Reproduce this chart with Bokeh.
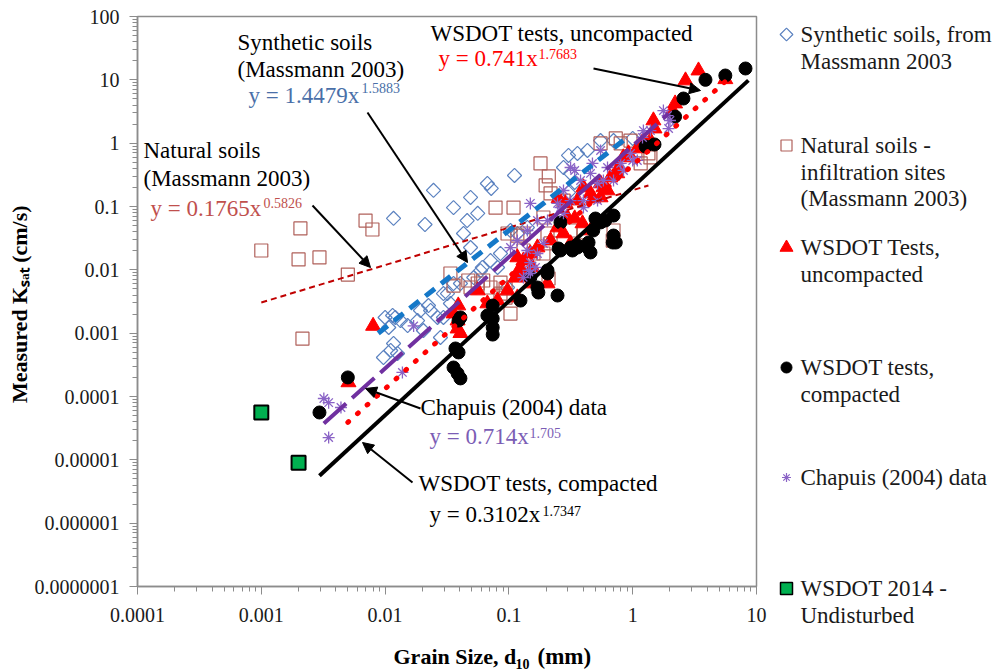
import numpy as np
from bokeh.plotting import figure
from bokeh.layouts import row, column
from bokeh.models import Range1d, FixedTicker, CustomJSTickFormatter, Label, Arrow, NormalHead, Title
from bokeh.core.properties import value
from bokeh.embed import file_html
from bokeh.resources import INLINE

# ---------------- data ----------------
syn_x = [0.0117, 0.021, 0.0246, 0.0357, 0.049, 0.067, 0.072, 0.111, 0.046, 0.056, 0.043, 0.049,
         0.303, 0.358, 0.431, 0.276, 0.315, 0.34, 0.303, 0.141, 0.117, 0.103, 0.0855, 0.071, 0.061,
         0.052, 0.0357, 0.0296, 0.0296, 0.0233, 0.0183, 0.0121, 0.0152, 0.55, 0.70, 1.0, 0.010,
         0.0115, 0.0107, 0.0117, 0.0111, 0.0126, 0.0097, 0.0133, 0.0193, 0.0224, 0.0265, 0.0319,
         0.0337, 0.0406, 0.028, 0.0204, 0.059, 0.081, 0.0975]
syn_y = [0.065, 0.052, 0.18, 0.096, 0.139, 0.231, 0.193, 0.309, 0.060, 0.078, 0.0375, 0.0225,
         0.64, 0.688, 0.767, 0.413, 0.333, 0.24, 0.167, 0.0466, 0.0375, 0.0418, 0.0181, 0.014, 0.0109,
         0.00756, 0.00608, 0.00422, 0.00177, 0.00228, 0.00158, 0.00177, 0.00132, 1.10, 1.10, 1.19, 0.00177,
         0.0019, 0.00123, 0.000687, 0.000533, 0.000478, 0.000413, 0.00158, 0.00228, 0.00273, 0.00177, 0.00422,
         0.00294, 0.00608, 0.000855, 0.0011, 0.0097, 0.0109, 0.00526]

nat_x = [0.001, 0.00207, 0.002, 0.00295, 0.00695, 0.0079, 0.005, 0.00215, 0.078, 0.109, 0.18, 0.198,
         0.217, 0.276, 0.0975, 0.117, 0.131, 0.19, 0.205, 0.217, 0.315, 0.40, 0.55, 0.73, 0.80, 0.96,
         1.34, 1.39, 0.70, 0.69, 0.0337, 0.047, 0.056, 0.071, 0.0855, 0.094, 0.131, 0.158, 0.19, 0.18,
         0.209, 0.103, 0.0855, 0.049, 0.062, 0.094, 0.0357, 1.16, 0.21]
nat_y = [0.0202, 0.045, 0.0146, 0.0157, 0.060, 0.0433, 0.00843, 0.00082, 0.096, 0.096, 0.478, 0.215,
         0.161, 0.124, 0.0375, 0.0348, 0.0375, 0.067, 0.0375, 0.0261, 0.0418, 0.0389, 0.99, 1.19, 0.99, 1.10,
         0.688, 0.595, 0.0418, 0.029, 0.00875, 0.00678, 0.00608, 0.00526, 0.0063, 0.00507, 0.0202, 0.0181, 0.0181, 0.00678,
         0.0073, 0.00204, 0.00422, 0.00526, 0.00678, 0.00365, 0.00565, 0.478, 0.30]

unc_x = [2.67, 3.4, 5.6, 2.2, 2.1, 1.5, 1.39, 0.925, 0.75, 0.58, 0.48, 0.40, 0.358, 0.297, 0.276,
         0.247, 0.217, 0.315, 0.17, 0.149, 0.131, 0.117, 0.117, 0.124, 0.155, 0.149, 0.205, 0.0975,
         0.081, 0.117, 0.067, 0.056, 0.0357, 0.0385, 0.008, 0.039, 0.0385, 0.0406, 0.113, 0.129,
         0.00506, 1.47, 1.22, 1.09, 0.84, 0.77, 0.66, 0.55, 0.55, 0.456, 0.252, 0.286, 0.34, 0.393,
         0.456, 0.626]
unc_y = [9.75, 14.0, 10.2, 4.22, 3.27, 1.70, 1.10, 0.688, 0.333, 0.2, 0.134, 0.2, 0.124, 0.067, 0.0375,
         0.0466, 0.029, 0.0261, 0.0225, 0.0181, 0.014, 0.0157, 0.00756, 0.0109, 0.0109, 0.00608, 0.00608, 0.00471,
         0.00327, 0.00365, 0.00294, 0.00471, 0.00204, 0.00158, 0.0013, 0.00273, 0.00118, 0.001, 0.00756, 0.00875,
         0.000167, 2.28, 1.10, 0.825, 0.595, 0.413, 0.287, 0.231, 0.139, 0.161, 0.134, 0.112, 0.0646, 0.054,
         0.0418, 0.179]

com_x = [8.15, 5.6, 3.87, 2.57, 2.2, 1.5, 1.27, 0.70, 0.60, 0.48, 0.431, 0.358, 0.315, 0.261, 0.70,
         0.69, 0.247, 0.17, 0.205, 0.149, 0.124, 0.074, 0.074, 0.074, 0.074, 0.0392, 0.037, 0.0392,
         0.0357, 0.0385, 0.0406, 0.005, 0.00295, 0.173, 0.067, 0.0406, 0.50, 0.55, 0.73, 0.44, 0.456,
         0.358, 0.326, 0.252, 0.205, 0.261]
com_y = [15.1, 11.7, 10.0, 5.07, 2.63, 0.954, 0.886, 0.072, 0.060, 0.0418, 0.0225, 0.0225, 0.0225, 0.0202, 0.0348,
         0.027, 0.00393, 0.00526, 0.00875, 0.00756, 0.00327, 0.00273, 0.0017, 0.00123, 0.00095, 0.00158, 0.000573, 0.000496,
         0.000287, 0.000231, 0.000193, 0.0002, 0.0000559, 0.00438, 0.0019, 0.00177, 0.0646, 0.056, 0.027, 0.027, 0.0188,
         0.0242, 0.0202, 0.0217, 0.0098, 0.056]

cha_x = [1.77, 1.91, 1.95, 1.39, 1.2, 1.0, 0.843, 0.70, 0.626, 0.55, 0.52, 0.456, 0.40, 0.52, 0.315,
         0.276, 0.276, 0.247, 0.205, 0.17, 0.149, 0.141, 0.117, 0.141, 0.17, 0.19, 0.103, 0.149, 0.017,
         0.0138, 0.164, 0.144, 0.131, 0.149, 0.0032, 0.0035, 0.0044, 0.0035, 2.0, 1.22, 1.09, 0.96, 0.80,
         0.473, 0.379, 0.34, 0.58, 0.315, 0.261, 0.40]
cha_y = [3.27, 2.73, 1.70, 1.58, 1.23, 0.533, 0.371, 0.258, 0.413, 0.767, 0.231, 0.333, 0.124, 0.124, 0.413,
         0.179, 0.078, 0.112, 0.060, 0.060, 0.112, 0.0418, 0.029, 0.0202, 0.0181, 0.0261, 0.0225, 0.00875, 0.0013,
         0.00024, 0.0109, 0.0098, 0.00756, 0.013, 0.000093, 0.00008, 0.000067, 0.0000225, 2.28, 1.58, 0.533, 0.688, 0.478,
         0.478, 0.258, 0.371, 0.258, 0.124, 0.0965, 0.0965]

und_x = [0.001, 0.002]
und_y = [0.000056, 0.000009]

# trend lines (end points)
fit_syn_x, fit_syn_y = [0.0088, 0.84], [0.001, 1.1]
fit_nat_x, fit_nat_y = [0.001, 1.34], [0.00305, 0.215]
fit_unc_x, fit_unc_y = [0.005, 6.2], [0.000039, 11.3]
fit_cha_x, fit_cha_y = [0.0032, 1.95], [0.0000375, 2.94]
fit_com_x, fit_com_y = [0.00295, 8.6], [0.0000056, 9.8]

x_ticks = [1e-4, 1e-3, 1e-2, 1e-1, 1, 10]
y_ticks = [1e-7, 1e-6, 1e-5, 1e-4, 1e-3, 1e-2, 1e-1, 1, 10, 100]

legend_labels = [["Synthetic soils, from", "Massmann 2003"],
                 ["Natural soils -", "infiltration sites", "(Massmann 2003)"],
                 ["WSDOT Tests,", "uncompacted"],
                 ["WSDOT tests,", "compacted"],
                 ["Chapuis (2004) data"],
                 ["WSDOT 2014 -", "Undisturbed"]]

# ---------------- main figure ----------------
SERIF = "Liberation Serif"
TOP_H = 631
p = figure(width=770, height=TOP_H, x_axis_type="log", y_axis_type="log",
           x_range=Range1d(1e-4, 10), y_range=Range1d(1e-7, 100),
           output_backend="svg", toolbar_location=None,
           min_border_left=137, min_border_right=14, min_border_top=16, min_border_bottom=45)
p.grid.visible = False
p.outline_line_color = "#8c8c8c"
p.outline_line_width = 1.5

x_minor = [m * t for t in x_ticks[:-1] for m in range(2, 10)]
y_minor = [m * t for t in y_ticks[:-1] for m in range(2, 10)]
p.xaxis.ticker = FixedTicker(ticks=x_ticks, minor_ticks=x_minor)
p.yaxis.ticker = FixedTicker(ticks=y_ticks, minor_ticks=y_minor)
fmt_code = """
if (tick >= 1) { return Math.round(tick).toString(); }
const d = Math.round(-Math.log10(tick));
return tick.toFixed(d);
"""
p.xaxis.formatter = CustomJSTickFormatter(code=fmt_code)
p.yaxis.formatter = CustomJSTickFormatter(code=fmt_code)
for ax in (p.xaxis[0], p.yaxis[0]):
    ax.axis_line_color = "#8c8c8c"
    ax.axis_line_width = 1.5
    ax.major_tick_line_color = "#8c8c8c"
    ax.minor_tick_line_color = "#8c8c8c"
    ax.major_tick_in = 0
    ax.major_tick_out = 8
    ax.minor_tick_in = 0
    ax.minor_tick_out = 5
    ax.major_label_text_font = SERIF
    ax.major_label_text_font_size = "20px"
    ax.major_label_text_color = "#1a1a1a"
p.yaxis.major_label_standoff = 10
p.xaxis.major_label_standoff = 13

p.add_layout(Title(text="Measured  K\u209b\u2090\u209c (cm/s)", align="center",
                   text_font=SERIF, text_font_size="22px", text_font_style="bold",
                   text_color="black", standoff=0), "left")

# ---------------- markers ----------------
p.scatter(syn_x, syn_y, marker="square", angle=np.pi / 4, size=10, fill_color=None,
          line_color="#5B82C0", line_width=1.2)
p.scatter(nat_x, nat_y, marker="square", size=13, fill_color=None,
          line_color="#B0605A", line_width=1.2)
p.scatter(unc_x, unc_y, marker="triangle", size=15, fill_color="#FF0000", line_color="#FF0000")
p.scatter(com_x, com_y, marker="circle", size=13, fill_color="black", line_color="black")
p.scatter(cha_x, cha_y, marker="asterisk", size=12, line_color="#8A63C6", line_width=1.3)
p.scatter(und_x, und_y, marker="square", size=14, fill_color="#00B050", line_color="black", line_width=2)

# ---------------- trend lines ----------------
p.line(fit_nat_x, fit_nat_y, line_color="#C00000", line_width=2, line_dash="6 4")
p.line(fit_syn_x, fit_syn_y, line_color="#1478C8", line_width=5, line_dash="12 8")
p.line(fit_cha_x, fit_cha_y, line_color="#7030A0", line_width=4, line_dash="30 8")
p.line(fit_unc_x, fit_unc_y, line_color="#FF0000", line_width=5, line_dash="1 12", line_cap="round")
p.line(fit_com_x, fit_com_y, line_color="black", line_width=4)

# ---------------- annotations (placed by page pixel) ----------------
def X(px):
    return 10 ** ((px - 137) / 123.8 - 4)

def Y(py):
    return 10 ** (2 - (py - 16) / 63.333)

def lab(px, py, text, size=23, color="black"):
    p.add_layout(Label(x=X(px), y=Y(py), text=text, text_font=SERIF,
                       text_font_size=f"{size}px", text_color=color,
                       text_baseline="middle", text_align="left"))

def arrow(x0, y0, x1, y1):
    p.add_layout(Arrow(end=NormalHead(size=11, fill_color="black", line_color="black"),
                       x_start=X(x0), y_start=Y(y0), x_end=X(x1), y_end=Y(y1),
                       line_color="black", line_width=2))

C_BLUE, C_NAT, C_RED, C_PUR = "#4A6FA8", "#C0504D", "#FF0000", "#7B5DB5"

lab(237, 42, "Synthetic  soils")
lab(237, 69, "(Massmann 2003)")
lab(248, 95, "y = 1.4479x", color=C_BLUE)
lab(361, 87, "1.5883", size=14, color=C_BLUE)

lab(143, 150, "Natural soils")
lab(143, 178, "(Massmann 2003)")
lab(150, 208, "y = 0.1765x", color=C_NAT)
lab(263, 202, "0.5826", size=14, color=C_NAT)

lab(430, 33, "WSDOT  tests, uncompacted")
lab(438, 58, "y = 0.741x", color=C_RED)
lab(538, 53, "1.7683", size=14, color=C_RED)

lab(420, 407, "Chapuis (2004) data")
lab(429, 436, "y = 0.714x", color=C_PUR)
lab(529, 432, "1.705", size=14, color=C_PUR)

lab(418, 483, "WSDOT  tests, compacted")
lab(429, 514, "y = 0.3102x")
lab(542, 510, "1.7347", size=14)

arrow(312, 205, 370, 267)
arrow(367, 112, 467, 262)
arrow(593, 68, 700, 90)
arrow(420, 408, 365, 388)
arrow(412, 482, 362, 442)

# ---------------- x-axis title strip (page-pixel coordinates) ----------------
xlab = figure(width=770, height=671 - TOP_H, x_range=Range1d(137, 756), y_range=Range1d(671, TOP_H),
              output_backend="svg", toolbar_location=None,
              x_axis_location=None, y_axis_location=None,
              min_border_left=137, min_border_right=14, min_border_top=0, min_border_bottom=0)
xlab.grid.visible = False
xlab.outline_line_color = None
xlab.text(x=[393], y=[656], text=["Grain Size, d"], text_font=value(SERIF), text_font_size="22px",
          text_font_style="bold", text_baseline="middle", text_align="left", text_color="black")
xlab.text(x=[515], y=[663], text=["10"], text_font=value(SERIF), text_font_size="14px",
          text_font_style="bold", text_baseline="middle", text_align="left", text_color="black")
xlab.text(x=[537], y=[656], text=["(mm)"], text_font=value(SERIF), text_font_size="23px",
          text_font_style="bold", text_baseline="middle", text_align="left", text_color="black")

# ---------------- legend panel (page-pixel coordinates) ----------------
leg = figure(width=231, height=671, x_range=Range1d(770, 1001), y_range=Range1d(671, 0),
             output_backend="svg", toolbar_location=None,
             x_axis_location=None, y_axis_location=None,
             min_border_left=0, min_border_right=0, min_border_top=0, min_border_bottom=0)
leg.grid.visible = False
leg.outline_line_color = None

item_y = [34, 145, 247, 367, 477, 588]
mk_x = 786
leg.scatter([mk_x], [item_y[0]], marker="square", angle=np.pi / 4, size=9, fill_color=None,
            line_color="#5B82C0", line_width=1.2)
leg.scatter([mk_x], [item_y[1]], marker="square", size=11, fill_color=None,
            line_color="#B0605A", line_width=1.2)
leg.scatter([mk_x], [item_y[2]], marker="triangle", size=13, fill_color="#FF0000", line_color="#FF0000")
leg.scatter([mk_x], [item_y[3]], marker="circle", size=11, fill_color="black", line_color="black")
leg.scatter([mk_x], [item_y[4]], marker="asterisk", size=9, line_color="#8A63C6", line_width=1.2)
leg.scatter([mk_x], [item_y[5]], marker="square", size=12, fill_color="#00B050",
            line_color="black", line_width=1.5)

tx, ty, tt = [], [], []
for y0, lines in zip(item_y, legend_labels):
    for k, s in enumerate(lines):
        tx.append(800)
        ty.append(y0 + 26.5 * k)
        tt.append(s)
leg.text(x=tx, y=ty, text=tt, text_font=value(SERIF), text_font_size="23px",
         text_baseline="middle", text_align="left", text_color="#1a1a1a")

layout = row(column(p, xlab, spacing=0), leg, spacing=0)
open("out.html", "w").write(file_html(layout, INLINE))
